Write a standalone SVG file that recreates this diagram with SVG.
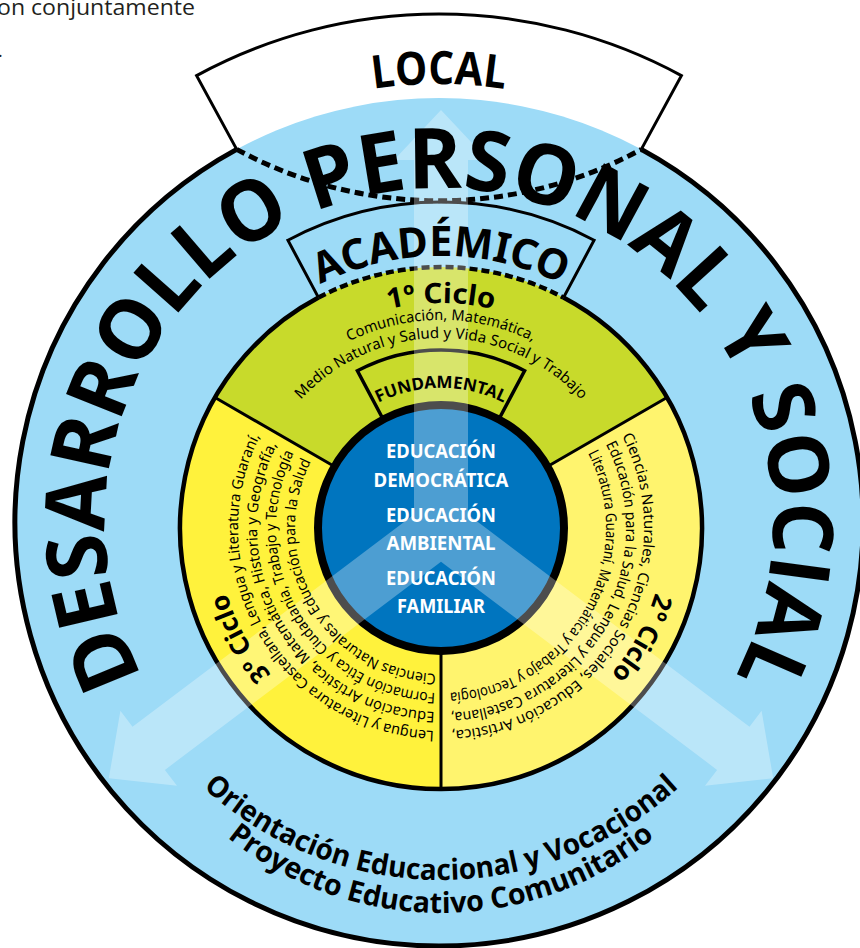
<svg xmlns="http://www.w3.org/2000/svg" width="860" height="948" viewBox="0 0 860 948">
<style>
.big{font-family:"Open Sans","Liberation Sans",sans-serif;font-weight:700;fill:#000}
.rt{font-family:"Noto Sans","Open Sans",sans-serif;fill:#000}
.rb{font-family:"Noto Sans","Open Sans",sans-serif;font-weight:700;fill:#000}
.ctr{font-family:"Noto Sans","Open Sans",sans-serif;font-weight:700;fill:#fff;font-size:20px;text-anchor:middle}
.bd{fill:none;stroke:#000}
</style>
<defs>
<path id="p-dps" d="M272,811.3 A334 334 0 1 1 606,811.3"/>
<path id="p-local" d="M220,142.7 A438 438 0 0 1 658,142.7"/>
<path id="p-acad" d="M218.2,372 A272 272 0 0 1 663.8,372"/>
<path id="p-c1" d="M256.7,398.9 A225 225 0 0 1 625.3,398.9"/>
<path id="p-c1a" d="M270.6,408.7 A208 208 0 0 1 611.4,408.7"/>
<path id="p-c1b" d="M285.4,419 A190 190 0 0 1 596.6,419"/>
<path id="p-fund" d="M326.3,447.7 A140 140 0 0 1 555.7,447.7"/>
<path id="p-b1" d="M136.2,704 A352 352 0 0 0 745.8,704"/>
<path id="p-b2" d="M146.6,743 A340 340 0 0 0 735.4,743"/>
<path id="p-2c" d="M665,528 A224 224 0 0 1 553,722"/>
<path id="p-3c" d="M329,722 A224 224 0 0 1 217,528"/>
<path id="p-r1" d="M621.9,435.8 A203 203 0 0 1 423.3,730.2"/>
<path id="p-r2" d="M605.8,444 A185 185 0 0 1 424.9,712.3"/>
<path id="p-r3" d="M588,453.1 A165 165 0 0 1 426.6,692.4"/>
<path id="p-l1" d="M433.9,730.9 A203 203 0 0 1 274.7,411.6"/>
<path id="p-l2" d="M434.6,711.9 A184 184 0 0 1 290.3,422.5"/>
<path id="p-l3" d="M435.2,692.9 A165 165 0 0 1 305.8,433.4"/>
<path id="p-l4" d="M435.9,673.9 A146 146 0 0 1 321.4,444.3"/>
</defs>
<rect width="860" height="948" fill="#fff"/>
<text x="-3" y="15" font-family="Open Sans, Liberation Sans, sans-serif" font-size="22" fill="#231f20" textLength="198" lengthAdjust="spacingAndGlyphs">on conjuntamente</text>
<text x="-2" y="57" font-family="Open Sans, Liberation Sans, sans-serif" font-size="18" fill="#231f20">.</text>

<g id="outer-ring">
<circle cx="439" cy="522" r="424" fill="#9ddbf7"/>
<path class="bd" stroke-width="5" d="M641.3,149.4 A424 424 0 1 1 236.7,149.4"/>
<path class="bd" stroke-width="5" stroke-dasharray="9 5" d="M236.7,149.4 A424 424 0 0 0 641.3,149.4"/>
</g>
<g id="local-box">
<path class="bd" stroke-width="3" d="M236.7,149.4 L196.6,75.6 A508 508 0 0 1 681.4,75.6 L641.3,149.4"/>
</g>
<g id="ciclo1">
<path d="M441,528 L215,397.5 A261 261 0 0 1 667,397.5 Z" fill="#c8da2b"/>
</g>
<g id="ciclo2">
<path d="M441,528 L667,397.5 A261 261 0 0 1 441,789 Z" fill="#fff46e"/>
</g>
<g id="ciclo3">
<path d="M441,528 L441,789 A261 261 0 0 1 215,397.5 Z" fill="#fff23c"/>
</g>
<g id="academico-box">
<path class="bd" stroke-width="3" d="M318.5,297.6 L287.9,240.2 A326 326 0 0 1 594.1,240.2 L563.5,297.6"/>
</g>
<g id="ring-borders">
<path class="bd" stroke-width="3" d="M331.9,465 L215,397.5 M550.1,465 L667,397.5 M441,654 L441,789"/>
<path class="bd" stroke-width="4.5" d="M563.5,297.6 A261 261 0 1 1 318.5,297.6"/>
<path class="bd" stroke-width="4.5" stroke-dasharray="8 4" d="M318.5,297.6 A261 261 0 0 1 563.5,297.6"/>
</g>
<g id="fundamental-box">
<path class="bd" stroke-width="3.5" d="M381.8,416.8 L357.4,370.8 A178 178 0 0 1 524.6,370.8 L500.2,416.8"/>
</g>
<g id="center">
<circle cx="441" cy="528" r="123" fill="#0075bf" stroke="#000" stroke-width="8"/>
</g>
<g id="connectors">
<path fill="#fff" fill-opacity="0.3" d="M441,110 L488,160 L468,160 L468,514.6 L749.5,726.7 L761.6,710.8 L773.2,778.3 L705,785.8 L717.1,769.9 L441,561.8 L164.9,769.9 L177,785.8 L108.8,778.3 L120.4,710.8 L132.5,726.7 L414,514.6 L414,160 L394,160 Z"/>
</g>

<g id="labels">
<text class="big" font-size="84"><textPath href="#p-dps" startOffset="50%" text-anchor="middle" textLength="1370" lengthAdjust="spacingAndGlyphs">DESARROLLO PERSONAL Y SOCIAL</textPath></text>
<text class="big" font-size="46"><textPath href="#p-local" startOffset="50%" text-anchor="middle" textLength="132" lengthAdjust="spacingAndGlyphs">LOCAL</textPath></text>
<text class="rb" font-size="42"><textPath href="#p-acad" startOffset="50%" text-anchor="middle" textLength="250" lengthAdjust="spacingAndGlyphs">ACADÉMICO</textPath></text>
<text class="rb" font-size="28"><textPath href="#p-c1" startOffset="50%" text-anchor="middle" textLength="106" lengthAdjust="spacingAndGlyphs">1º Ciclo</textPath></text>
<text class="rt" font-size="15"><textPath href="#p-c1a" startOffset="50%" text-anchor="middle" textLength="190" lengthAdjust="spacingAndGlyphs">Comunicación, Matemática,</textPath></text>
<text class="rt" font-size="15"><textPath href="#p-c1b" startOffset="50%" text-anchor="middle" textLength="315" lengthAdjust="spacingAndGlyphs">Medio Natural y Salud y Vida Social y Trabajo</textPath></text>
<text class="rb" font-size="17"><textPath href="#p-fund" startOffset="50%" text-anchor="middle" textLength="130" lengthAdjust="spacingAndGlyphs">FUNDAMENTAL</textPath></text>
<text class="rb" font-size="26"><textPath href="#p-2c" startOffset="48%" text-anchor="middle">2º Ciclo</textPath></text>
<text class="rt" font-size="15"><textPath href="#p-r1" textLength="404" lengthAdjust="spacingAndGlyphs">Ciencias Naturales, Ciencias Sociales, Educación Artística,</textPath></text>
<text class="rt" font-size="15"><textPath href="#p-r2" textLength="368" lengthAdjust="spacingAndGlyphs">Educación para la Salud, Lengua y Literatura Castellana,</textPath></text>
<text class="rt" font-size="15"><textPath href="#p-r3" textLength="328" lengthAdjust="spacingAndGlyphs">Literatura Guaraní, Matemática y Trabajo y Tecnología</textPath></text>
<text class="rb" font-size="26"><textPath href="#p-3c" startOffset="52%" text-anchor="middle">3º Ciclo</textPath></text>
<text class="rt" font-size="15"><textPath href="#p-l1" textLength="407" lengthAdjust="spacingAndGlyphs">Lengua y Literatura Castellana, Lengua y Literatura Guaraní,</textPath></text>
<text class="rt" font-size="15"><textPath href="#p-l2" textLength="369" lengthAdjust="spacingAndGlyphs">Educación Artística, Matemática, Historia y Geografía,</textPath></text>
<text class="rt" font-size="15"><textPath href="#p-l3" textLength="331" lengthAdjust="spacingAndGlyphs">Formación Ética y Ciudadanía, Trabajo y Tecnología</textPath></text>
<text class="rt" font-size="15"><textPath href="#p-l4" textLength="293" lengthAdjust="spacingAndGlyphs">Ciencias Naturales y Educación para la Salud</textPath></text>
<text class="big" font-size="29"><textPath href="#p-b1" startOffset="50%" text-anchor="middle" textLength="522" lengthAdjust="spacingAndGlyphs">Orientación Educacional y Vocacional</textPath></text>
<text class="big" font-size="29"><textPath href="#p-b2" startOffset="50%" text-anchor="middle" textLength="462" lengthAdjust="spacingAndGlyphs">Proyecto Educativo Comunitario</textPath></text>
</g>
<g id="center-text">
<text class="ctr" x="441" y="458" textLength="110" lengthAdjust="spacingAndGlyphs">EDUCACIÓN</text>
<text class="ctr" x="441" y="487" textLength="135" lengthAdjust="spacingAndGlyphs">DEMOCRÁTICA</text>
<text class="ctr" x="441" y="522" textLength="110" lengthAdjust="spacingAndGlyphs">EDUCACIÓN</text>
<text class="ctr" x="441" y="550" textLength="109" lengthAdjust="spacingAndGlyphs">AMBIENTAL</text>
<text class="ctr" x="441" y="585" textLength="110" lengthAdjust="spacingAndGlyphs">EDUCACIÓN</text>
<text class="ctr" x="441" y="613" textLength="88" lengthAdjust="spacingAndGlyphs">FAMILIAR</text>
</g>
</svg>
